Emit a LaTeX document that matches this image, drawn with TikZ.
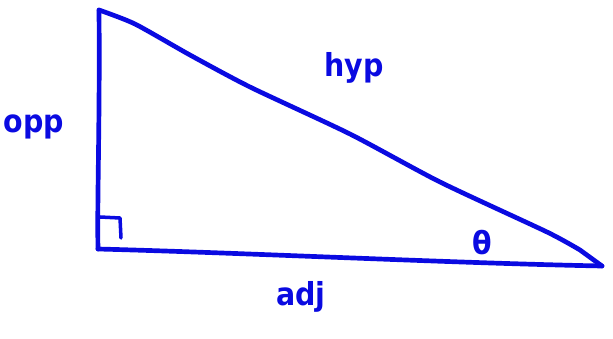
\documentclass[tikz,border=0pt]{standalone}
\usepackage{fontspec}
\setmainfont{DejaVu Sans Condensed}
\usetikzlibrary{positioning, calc}
\definecolor{penblue}{RGB}{10,10,225}

\begin{document}
\begin{tikzpicture}[x=0.03cm, y=-0.03cm,
        side/.style={draw=penblue, line width=4pt, line cap=round, line join=round},
        lbl/.style={text=penblue, font=\fontsize{27}{30}\selectfont\bfseries, inner sep=0pt}
    ]
        \useasboundingbox (0,0) rectangle (613,339);
        \coordinate (TOP) at (99,10);
        \coordinate (RA) at (98,249);
        \coordinate (TIP) at (602,266);
        \draw[side] (TOP) .. controls (100,120) and (97,200) .. (RA);
        \draw[side] (RA) .. controls (250,253) and (450,263) .. (TIP);
        \draw[side] plot[smooth, tension=0.4] coordinates {(99,10) (135,24) (190,55) (250,87) (350,134) (440,182) (547,232) (580,250)} -- (TIP);
        \draw[side, line width=3pt] (100,217) -- (120,218) -- (121,238);
        \node[lbl] (OPP) at (34,127) {opp};
        \node[lbl] (HYP) at (354,68) {hyp};
        \node[lbl] (ADJ) at (301,297) {adj};
        \node[lbl] (THETA) at (482,243) {θ};
    \end{tikzpicture}
\end{document}
